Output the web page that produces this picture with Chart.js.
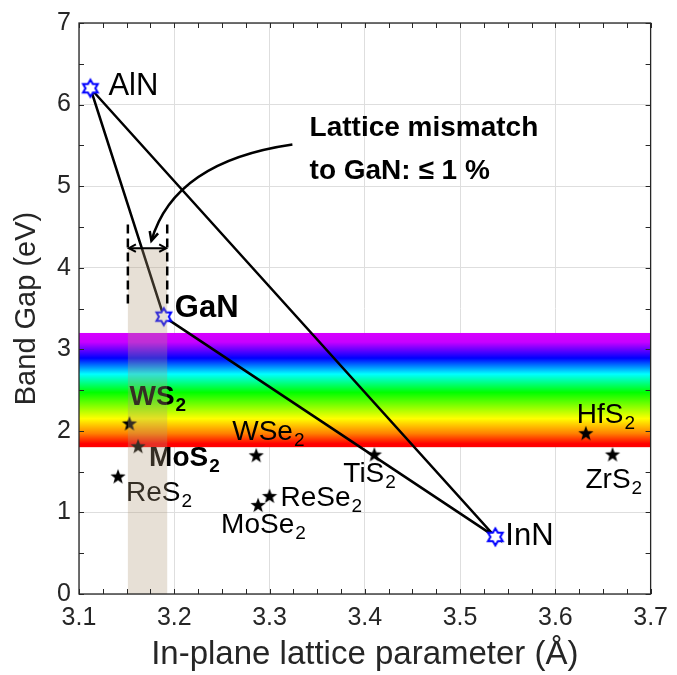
<!DOCTYPE html>
<html>
<head>
<meta charset="utf-8">
<script src="https://cdn.jsdelivr.net/npm/chart.js@4.4.1/dist/chart.umd.min.js"></script>
<style>
  html, body { margin: 0; padding: 0; background: #fff; }
</style>
</head>
<body>
<canvas id="chart" width="677" height="675"></canvas>
<script>
// nitrides (a, Eg)
const nitrideNames = ["AlN", "GaN", "InN"];
const nitrideLattice = [3.112, 3.189, 3.537];
const nitrideGap = [6.2, 3.4, 0.7];

// 2D materials
const tmdNames = ["WS2", "MoS2", "ReS2", "WSe2", "ReSe2", "MoSe2", "TiS2", "HfS2", "ZrS2"];
const tmdLattice = [3.153, 3.162, 3.141, 3.286, 3.300, 3.288, 3.410, 3.632, 3.660];
const tmdGap = [2.09, 1.81, 1.44, 1.70, 1.20, 1.09, 1.71, 1.97, 1.71];

const xTicks = [3.1, 3.2, 3.3, 3.4, 3.5, 3.6, 3.7];
const yTicks = [0, 1, 2, 3, 4, 5, 6, 7];

// visible spectrum band (eV)
const visibleBand = [1.8, 3.2];
// lattice window of +-1 % around GaN
const mismatchWindow = [3.1513, 3.1926];
const mismatchShadeTop = 4.25;
const mismatchDash = [3.51, 4.53];
const mismatchArrowY = 4.24;

const noteLines = ["Lattice mismatch", "to GaN: \u2264 1 %"];
const notePos = { x: 3.342, y: 5.71 };
// curved pointer from the note to the window
const curveStart = { x: 3.324, y: 5.51 };
const curveCtrl = { x: 3.200, y: 5.30 };
const curveEnd = { x: 3.176, y: 4.33 };

// label offsets from marker in px: [dx, dy, bold, size]
const nitrideLabelPos = [[18, -2, false, 31], [11, -8, true, 31], [10, 0, false, 31]];
const tmdLabelPos = [
  [0, -26, true, 28], [11, 12, true, 28], [8, 17, false, 28], [-24, -23, false, 28], [11, 2, false, 28],
  [-37, 20, false, 28], [-31, 20, false, 28], [-9, -18, false, 28], [-27, 26, false, 28]
];

const FONT = "'Liberation Sans', Arial, Helvetica, sans-serif";
const AXIS_COLOR = "#262626";

//marker images
function hexagram() {
  const c = document.createElement("canvas");
  c.width = 22; c.height = 22;
  const g = c.getContext("2d");
  const R = 8.5, r = R / Math.sqrt(3);
  g.beginPath();
  for (let i = 0; i < 12; i++) {
    const a = -Math.PI / 2 + i * Math.PI / 6;
    const rad = i % 2 === 0 ? R : r;
    const px = 11 + rad * Math.cos(a), py = 11 + rad * Math.sin(a);
    if (i === 0) g.moveTo(px, py); else g.lineTo(px, py);
  }
  g.closePath();
  g.fillStyle = "#fff";
  g.fill();
  g.strokeStyle = "#0000ff";
  g.lineWidth = 2;
  g.stroke();
  return c;
}

function pentagram() {
  const c = document.createElement("canvas");
  c.width = 20; c.height = 20;
  const g = c.getContext("2d");
  const R = 8, r = 3.3;
  g.beginPath();
  for (let i = 0; i < 10; i++) {
    const a = -Math.PI / 2 + i * Math.PI / 5;
    const rad = i % 2 === 0 ? R : r;
    const px = 10 + rad * Math.cos(a), py = 10.5 + rad * Math.sin(a);
    if (i === 0) g.moveTo(px, py); else g.lineTo(px, py);
  }
  g.closePath();
  g.fillStyle = "#000";
  g.fill();
  return c;
}

const nitridePoints = nitrideLattice.map((a, i) => ({ x: a, y: nitrideGap[i] }));
const tmdPoints = tmdLattice.map((a, i) => ({ x: a, y: tmdGap[i] }));
// AlN -> GaN -> InN -> AlN
const trianglePoints = [0, 1, 2, 0].map(i => nitridePoints[i]);

function drawName(ctx, name, x, y, size, bold) {
  let main = name, sub = "";
  if (/\d$/.test(name)) { main = name.slice(0, -1); sub = name.slice(-1); }
  ctx.fillStyle = "#000";
  ctx.textBaseline = "middle";
  ctx.textAlign = "left";
  ctx.font = (bold ? "bold " : "") + size + "px " + FONT;
  ctx.fillText(main, x, y);
  if (sub) {
    const w = ctx.measureText(main).width;
    ctx.font = (bold ? "bold " : "") + Math.round(size * 0.68) + "px " + FONT;
    ctx.fillText(sub, x + w + 1, y + size * 0.3);
  }
}

function arrowHead(ctx, tipX, tipY, dirX, dirY, len, spread) {
  const ang = Math.atan2(dirY, dirX);
  ctx.beginPath();
  ctx.moveTo(tipX - len * Math.cos(ang - spread), tipY - len * Math.sin(ang - spread));
  ctx.lineTo(tipX, tipY);
  ctx.lineTo(tipX - len * Math.cos(ang + spread), tipY - len * Math.sin(ang + spread));
  ctx.stroke();
}

const decor = {
  id: "decor",
  beforeDatasetsDraw(chart) {
    const { ctx, chartArea: ca, scales: { x, y } } = chart;
    const top = y.getPixelForValue(visibleBand[1]);
    const bot = y.getPixelForValue(visibleBand[0]);
    const grad = ctx.createLinearGradient(0, top, 0, bot);
    grad.addColorStop(0, "rgb(215,0,255)");
    grad.addColorStop(0.08, "rgb(200,0,255)");
    grad.addColorStop(0.22, "rgb(0,0,255)");
    grad.addColorStop(0.36, "rgb(0,255,255)");
    grad.addColorStop(0.52, "rgb(0,255,0)");
    grad.addColorStop(0.75, "rgb(255,255,0)");
    grad.addColorStop(0.88, "rgb(255,128,0)");
    grad.addColorStop(0.97, "rgb(255,0,0)");
    grad.addColorStop(1, "rgb(255,0,0)");
    ctx.save();
    ctx.fillStyle = grad;
    ctx.fillRect(ca.left, top, ca.right - ca.left, bot - top);
    ctx.restore();
  },
  afterDatasetsDraw(chart) {
    const { ctx, chartArea: ca, scales: { x, y } } = chart;
    ctx.save();

    // material names
    nitrideNames.forEach((n, i) => {
      const p = nitrideLabelPos[i];
      drawName(ctx, n, x.getPixelForValue(nitrideLattice[i]) + p[0], y.getPixelForValue(nitrideGap[i]) + p[1], p[3], p[2]);
    });
    tmdNames.forEach((n, i) => {
      const p = tmdLabelPos[i];
      drawName(ctx, n, x.getPixelForValue(tmdLattice[i]) + p[0], y.getPixelForValue(tmdGap[i]) + p[1], p[3], p[2]);
    });

    // shaded 1 % window
    const wl = x.getPixelForValue(mismatchWindow[0]);
    const wr = x.getPixelForValue(mismatchWindow[1]);
    const wt = y.getPixelForValue(mismatchShadeTop);
    ctx.fillStyle = "rgba(175,152,120,0.3)";
    ctx.fillRect(wl, wt, wr - wl, ca.bottom - wt);

    // dashed window edges
    ctx.strokeStyle = "#000";
    ctx.lineWidth = 2.5;
    ctx.setLineDash([9, 5]);
    const dt = y.getPixelForValue(mismatchDash[1]);
    const db = y.getPixelForValue(mismatchDash[0]);
    [wl, wr].forEach(px => {
      ctx.beginPath();
      ctx.moveTo(px, dt);
      ctx.lineTo(px, db);
      ctx.stroke();
    });
    ctx.setLineDash([]);

    // double arrow
    const ay = y.getPixelForValue(mismatchArrowY);
    ctx.lineWidth = 2;
    ctx.beginPath();
    ctx.moveTo(wl + 1, ay);
    ctx.lineTo(wr - 1, ay);
    ctx.stroke();
    arrowHead(ctx, wl + 1, ay, -1, 0, 8, 0.5);
    arrowHead(ctx, wr - 1, ay, 1, 0, 8, 0.5);

    // curved pointer
    const s = { x: x.getPixelForValue(curveStart.x), y: y.getPixelForValue(curveStart.y) };
    const c = { x: x.getPixelForValue(curveCtrl.x), y: y.getPixelForValue(curveCtrl.y) };
    const e = { x: x.getPixelForValue(curveEnd.x), y: y.getPixelForValue(curveEnd.y) };
    ctx.lineWidth = 2.5;
    ctx.beginPath();
    ctx.moveTo(s.x, s.y);
    ctx.quadraticCurveTo(c.x, c.y, e.x, e.y);
    ctx.stroke();
    arrowHead(ctx, e.x, e.y, e.x - c.x, e.y - c.y, 10, 0.45);

    // note
    ctx.fillStyle = "#000";
    ctx.font = "bold 28px " + FONT;
    ctx.textAlign = "left";
    ctx.textBaseline = "middle";
    const nx = x.getPixelForValue(notePos.x), ny = y.getPixelForValue(notePos.y);
    noteLines.forEach((t, i) => ctx.fillText(t, nx, ny + i * 43));

    // frame + inward ticks
    ctx.strokeStyle = AXIS_COLOR;
    ctx.lineWidth = 1.3;
    ctx.strokeRect(ca.left, ca.top, ca.right - ca.left, ca.bottom - ca.top);
    ctx.lineWidth = 1;
    const tl = 5;
    ctx.beginPath();
    for (let v = 3.1; v <= 3.7001; v += 0.025) {
      const px = Math.round(x.getPixelForValue(v)) + 0.5;
      ctx.moveTo(px, ca.bottom); ctx.lineTo(px, ca.bottom - tl);
      ctx.moveTo(px, ca.top); ctx.lineTo(px, ca.top + tl);
    }
    for (let v = 0; v <= 7.001; v += 0.5) {
      const py = Math.round(y.getPixelForValue(v)) + 0.5;
      ctx.moveTo(ca.left, py); ctx.lineTo(ca.left + tl, py);
      ctx.moveTo(ca.right, py); ctx.lineTo(ca.right - tl, py);
    }
    ctx.stroke();
    ctx.restore();
  }
};

const gridOpts = { color: "#dedede", lineWidth: 1, drawTicks: false };

new Chart(document.getElementById("chart"), {
  type: "scatter",
  plugins: [decor],
  data: {
    datasets: [
      {
        label: "nitrides",
        data: nitridePoints,
        pointStyle: hexagram(),
        order: 0
      },
      {
        label: "2D",
        data: tmdPoints,
        pointStyle: pentagram(),
        order: 0
      },
      {
        label: "triangle",
        data: trianglePoints,
        showLine: true,
        borderColor: "#000",
        borderWidth: 2.5,
        pointRadius: 0,
        order: 1
      }
    ]
  },
  options: {
    responsive: false,
    devicePixelRatio: 1,
    animation: false,
    layout: { padding: { top: 21, right: 25, left: 0, bottom: 0 } },
    plugins: {
      legend: { display: false },
      tooltip: { enabled: false }
    },
    scales: {
      x: {
        type: "linear",
        min: 3.1,
        max: 3.7,
        afterBuildTicks: s => { s.ticks = xTicks.map(v => ({ value: v })); },
        afterFit: s => { s.height = 81; },
        grid: gridOpts,
        border: { display: false },
        ticks: {
          autoSkip: false,
          maxRotation: 0,
          padding: 9,
          color: AXIS_COLOR,
          font: { family: FONT, size: 25 },
          callback: v => v.toFixed(1)
        },
        title: {
          display: true,
          text: "In-plane lattice parameter (\u00c5)",
          color: AXIS_COLOR,
          font: { family: FONT, size: 33 },
          padding: { top: 0, bottom: 0 }
        }
      },
      y: {
        type: "linear",
        min: 0,
        max: 7,
        afterBuildTicks: s => { s.ticks = yTicks.map(v => ({ value: v })); },
        afterFit: s => { s.width = 79; },
        grid: gridOpts,
        border: { display: false },
        ticks: {
          padding: 8,
          color: AXIS_COLOR,
          font: { family: FONT, size: 25 },
          callback: v => String(v)
        },
        title: {
          display: true,
          text: "Band Gap (eV)",
          color: AXIS_COLOR,
          font: { family: FONT, size: 29 },
          padding: { top: 10, bottom: 0 }
        }
      }
    }
  }
});
</script>
</body>
</html>
